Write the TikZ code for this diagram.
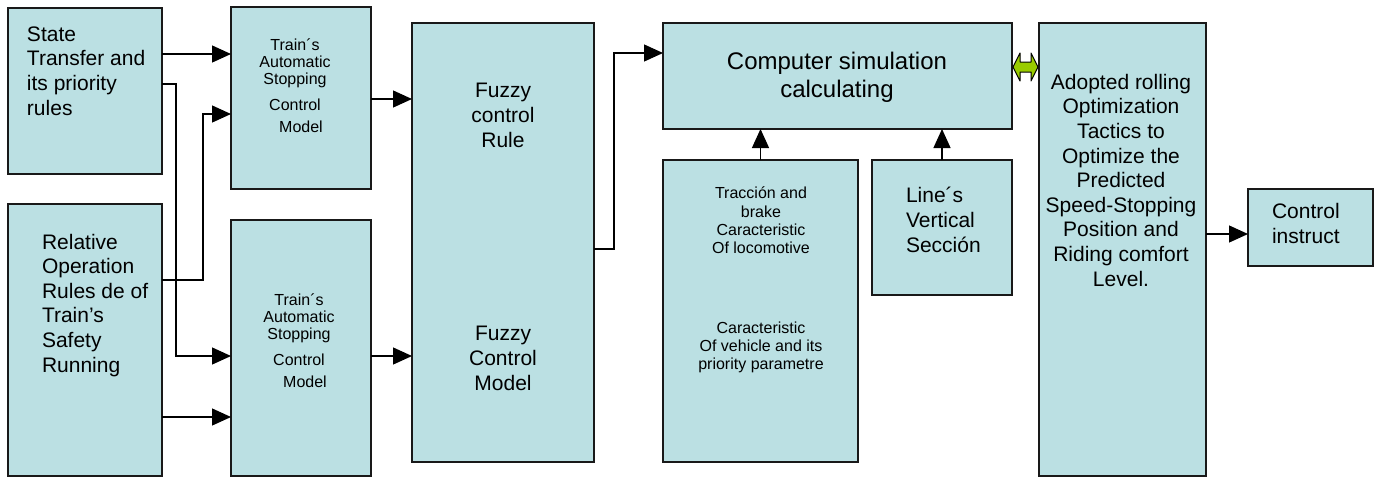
\documentclass[tikz,border=0pt]{standalone}
\usepackage{fontspec}
\setmainfont{Liberation Sans}
\usetikzlibrary{arrows.meta,calc}
\definecolor{boxfill}{HTML}{BBE0E3}
\definecolor{dblgreen}{HTML}{99CC00}
\newcommand{\fbig}{\fontsize{21}{24.6}\selectfont}
\newcommand{\fsmall}{\fontsize{16}{17}\selectfont}
\newcommand{\fsmallb}{\fontsize{16}{18.2}\selectfont}
\newcommand{\fsim}{\fontsize{24}{28}\selectfont}
\begin{document}
\begin{tikzpicture}[x=1pt,y=-1pt,
  box/.style={draw=black!90, fill=boxfill, line width=1.3pt, anchor=north west, inner sep=0pt, outer sep=0pt},
  txt/.style={inner sep=0pt, outer sep=0pt},
  arr/.style={line width=1.3pt, -{Triangle[length=19pt,width=17pt]}},
  wire/.style={line width=1.3pt}]
\useasboundingbox[fill=white] (0,0) rectangle (1376,477);

% boxes
\node[box, minimum width=154pt, minimum height=166pt] (A) at (8,8) {};
\node[box, minimum width=154pt, minimum height=272pt] (B) at (8,204) {};
\node[box, minimum width=140pt, minimum height=182pt] (C) at (231,7) {};
\node[box, minimum width=140pt, minimum height=256pt] (D) at (231,220) {};
\node[box, minimum width=182pt, minimum height=439pt] (E) at (412,23) {};
\node[box, minimum width=349pt, minimum height=106pt] (F) at (663,23) {};
\node[box, minimum width=195pt, minimum height=302pt] (G) at (663,160) {};
\node[box, minimum width=140pt, minimum height=135pt] (H) at (872,160) {};
\node[box, minimum width=167pt, minimum height=453pt] (I) at (1039,23) {};
\node[box, minimum width=125pt, minimum height=77pt] (J) at (1248,189) {};

% texts (anchored at the baseline of the last line)
\node[txt, anchor=base west, align=left, font=\fbig] (At) at (27,115) {State\\Transfer and\\its priority\\rules};
\node[txt, anchor=base west, align=left, font=\fbig] (Bt) at (42,372) {Relative\\Operation\\Rules de of\\Train’s\\Safety\\Running};
\node[txt, anchor=base, align=center, font=\fsmall] (Ct) at (295,132) {Train´s\\Automatic\\Stopping\\[9pt]Control\\[5pt]\hspace{12pt}Model};
\node[txt, anchor=base, align=center, font=\fsmall] (Dt) at (299,387) {Train´s\\Automatic\\Stopping\\[9pt]Control\\[5pt]\hspace{12pt}Model};
\node[txt, anchor=base, align=center, font=\fbig] (Et1) at (503,147) {Fuzzy\\control\\Rule};
\node[txt, anchor=base, align=center, font=\fbig] (Et2) at (503,390) {Fuzzy\\Control\\Model};
\node[txt, anchor=base, align=center, font=\fsim] (Ft) at (837,97) {Computer simulation\\calculating};
\node[txt, anchor=base, align=center, font=\fsmallb] (Gt1) at (761,253.5) {Tracción and\\brake\\Caracteristic\\Of locomotive};
\node[txt, anchor=base, align=center, font=\fsmallb] (Gt2) at (761,369.5) {Caracteristic\\Of vehicle and its\\priority parametre};
\node[txt, anchor=base west, align=left, font=\fbig] (Ht) at (906,252) {Line´s\\Vertical\\Sección};
\node[txt, anchor=base, align=center, font=\fbig] (It) at (1121,286) {Adopted rolling\\Optimization\\Tactics to\\Optimize the\\Predicted\\Speed-Stopping\\Position and\\Riding comfort\\Level.};
\node[txt, anchor=base west, align=left, font=\fbig] (Jt) at (1272,243) {Control\\instruct};

% connector points
\coordinate (a1) at ([yshift=-46pt]A.north east);
\coordinate (a2) at ([yshift=-76pt]A.north east);
\coordinate (b1) at ([yshift=-76pt]B.north east);
\coordinate (b2) at ([yshift=-213pt]B.north east);
\coordinate (c1) at ([yshift=-107pt]C.north west);
\coordinate (c2) at ([yshift=-92pt]C.north east);
\coordinate (d1) at ([yshift=-136pt]D.north west);
\coordinate (d2) at ([yshift=-136pt]D.north east);
\coordinate (e1) at ([yshift=-226pt]E.north east);
\coordinate (f1) at ([yshift=-30pt]F.north west);
\coordinate (g1) at ([yshift=-44pt]F.north east);
\coordinate (g2) at (g1 -| I.west);
\coordinate (i1) at ([yshift=-211pt]I.north east);

% connectors
\draw[arr] (a1) -- (a1 -| C.west);
\draw[arr] (a2) -- ++(14,0) |- (d1);
\draw[arr] (b1) -- ++(41,0) |- (c1);
\draw[arr] (b2) -- (b2 -| D.west);
\draw[arr] (c2) -- (c2 -| E.west);
\draw[arr] (d2) -- (d2 -| E.west);
\draw[arr] (e1) -- ++(20,0) |- (f1);
\draw[arr] (G.north) -- (G.north |- F.south);
\draw[arr] (H.north) -- (H.north |- F.south);
\draw[arr] (i1) -- (i1 -| J.west);

% green double arrow
\draw[fill=dblgreen, line width=1pt, line join=round]
  ($(g1)+(1,0)$) -- ($(g1)+(8,-14)$) -- ($(g1)+(8,-5)$) -- ($(g2)+(-8,-5)$) -- ($(g2)+(-8,-14)$)
  -- ($(g2)+(-1,0)$) -- ($(g2)+(-8,14)$) -- ($(g2)+(-8,5)$) -- ($(g1)+(8,5)$) -- ($(g1)+(8,14)$) -- cycle;
\end{tikzpicture}
\end{document}
